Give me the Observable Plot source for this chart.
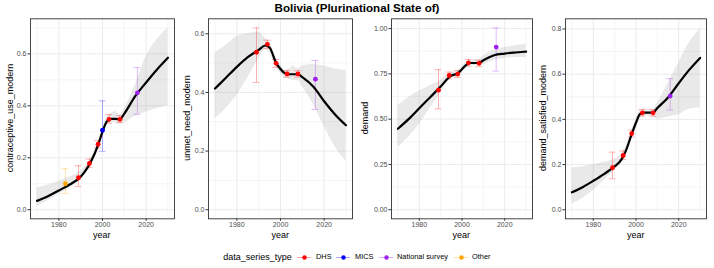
<!DOCTYPE html>
<html><head><meta charset="utf-8">
<script src="https://cdn.jsdelivr.net/npm/d3@7"></script>
<script src="https://cdn.jsdelivr.net/npm/@observablehq/plot@0.6"></script>
<style>
body{margin:0;background:#fff;}
#chart{position:relative;width:714px;height:268px;font-family:"Liberation Sans",Arial,Helvetica,sans-serif;overflow:hidden;background:#fff;}
.abs{position:absolute;white-space:nowrap;line-height:1;}
.abs svg, #chart svg{display:block;}
</style></head><body><div id="chart"></div>
<script>
// ---------- data ----------
const fitYears = [1970,1975,1980,1985,1990,1993,1995,1998,2000,2002,2004,2006,2008,2010,2015,2020,2025,2030];

const cpFit = [0.034,0.052,0.074,0.097,0.127,0.16,0.19,0.25,0.30,0.34,0.35,0.35,0.348,0.37,0.437,0.49,0.54,0.585];
const cpLo  = [0.012,0.035,0.06,0.085,0.115,0.15,0.18,0.235,0.285,0.325,0.335,0.335,0.33,0.335,0.36,0.375,0.39,0.40];
const cpHi  = [0.085,0.095,0.11,0.125,0.15,0.175,0.205,0.265,0.315,0.355,0.37,0.378,0.365,0.39,0.48,0.59,0.655,0.70];

const unFit = [0.413,0.45,0.487,0.52,0.545,0.56,0.553,0.50,0.48,0.465,0.462,0.462,0.462,0.452,0.42,0.37,0.325,0.288];
const unLo  = [0.31,0.345,0.39,0.45,0.515,0.545,0.535,0.485,0.465,0.45,0.445,0.44,0.44,0.42,0.36,0.285,0.215,0.165];
const unHi  = [0.535,0.56,0.59,0.60,0.605,0.585,0.57,0.515,0.495,0.475,0.48,0.49,0.48,0.49,0.495,0.49,0.48,0.475];

const dmFit = [0.447,0.50,0.56,0.62,0.68,0.72,0.74,0.752,0.775,0.80,0.81,0.81,0.81,0.825,0.853,0.862,0.868,0.873];
const dmLo  = [0.345,0.40,0.47,0.56,0.645,0.70,0.725,0.735,0.76,0.785,0.795,0.795,0.795,0.80,0.825,0.835,0.84,0.84];
const dmHi  = [0.575,0.62,0.655,0.685,0.715,0.745,0.755,0.77,0.79,0.815,0.825,0.83,0.83,0.85,0.88,0.895,0.905,0.915];

const dsFit = [0.077,0.10,0.128,0.158,0.192,0.22,0.255,0.335,0.385,0.425,0.43,0.43,0.43,0.45,0.497,0.56,0.62,0.672];
const dsLo  = [0.025,0.05,0.085,0.13,0.175,0.205,0.235,0.32,0.37,0.41,0.415,0.415,0.41,0.40,0.41,0.42,0.445,0.45];
const dsHi  = [0.185,0.19,0.20,0.21,0.225,0.245,0.275,0.35,0.40,0.44,0.445,0.445,0.44,0.47,0.56,0.65,0.74,0.80];

const cpObsYears = [1983,1989,1994,1998,2000,2003,2008,2016];
const cpObsTypes = ["Other","DHS","DHS","DHS","MICS","DHS","DHS","National survey"];
const cpObs   = [0.100,0.123,0.178,0.252,0.306,0.348,0.348,0.450];
const cpObsLo = [0.063,0.089,0.163,0.238,0.225,0.333,0.335,0.367];
const cpObsHi = [0.158,0.169,0.195,0.266,0.419,0.366,0.362,0.547];

const obsYears = [1989,1994,1998,2003,2008,2016];
const obsTypes = ["DHS","DHS","DHS","DHS","DHS","National survey"];
const unObs   = [0.537,0.564,0.499,0.463,0.463,0.445];
const unObsLo = [0.434,0.550,0.485,0.452,0.452,0.342];
const unObsHi = [0.620,0.578,0.512,0.474,0.474,0.509];
const dmObs   = [0.660,0.741,0.749,0.811,0.808,0.898];
const dmObsLo = [0.557,0.722,0.730,0.792,0.790,0.765];
const dmObsHi = [0.773,0.760,0.768,0.830,0.826,1.004];
const dsObs   = [0.186,0.240,0.337,0.429,0.429,0.503];
const dsObsLo = [0.137,0.222,0.322,0.414,0.414,0.441];
const dsObsHi = [0.255,0.260,0.352,0.444,0.444,0.580];

const seriesTypes  = ["DHS","MICS","National survey","Other"];
const seriesColors = ["#FF0000","#0000FF","#A020F0","#FFA500"];

const xTicks = [1980,2000,2020];
const xMinor = [1970,1990,2010,2030];
const yTicks2 = [0,0.2,0.4,0.6];
const yMinor2 = [0.1,0.3,0.5,0.7];
const yTicks3 = [0,0.25,0.5,0.75,1];
const yMinor3 = [0.125,0.375,0.625,0.875];
const yTicks4 = [0,0.2,0.4,0.6,0.8];
const yMinor4 = [0.1,0.3,0.5,0.7];

const titleText = "Bolivia (Plurinational State of)";
const yLabels = ["contraceptive_use_modern","unmet_need_modern","demand","demand_satisfied_modern"];
const xLabel = "year";
const legendTitle = "data_series_type";

// ---------- layout ----------
const chart = document.getElementById("chart");
const FT = 18.3, FB = 218.3;
const ML = 32, MR = 6, H = 234;
const capHalf = 1.6;

function addDiv(text, css) {
  const d = document.createElement("div");
  d.className = "abs";
  d.textContent = text;
  Object.assign(d.style, css);
  chart.appendChild(d);
  return d;
}

function panel(cfg) {
  const fitData = fitYears.map((year, i) => ({year, v: cfg.fit[i], lo: cfg.lo[i], hi: cfg.hi[i]}));
  const obs = cfg.oYears.map((year, i) => ({year, type: cfg.oTypes[i], v: cfg.oVal[i], lo: cfg.oLo[i], hi: cfg.oHi[i]}));
  const svg = Plot.plot({
    width: cfg.width + ML + MR, height: H,
    marginLeft: ML, marginRight: MR, marginTop: FT, marginBottom: H - FB,
    style: {fontFamily: '"Liberation Sans", Arial, sans-serif', fontSize: "7px", background: "transparent", overflow: "visible"},
    x: {domain: [1967, 2033]},
    y: {domain: cfg.yDomain},
    color: {domain: seriesTypes, range: seriesColors},
    marks: [
      Plot.gridX(xMinor, {stroke: "#EBEBEB", strokeOpacity: 1, strokeWidth: 0.5}),
      Plot.gridY(cfg.yMinor.filter(v => v < cfg.yDomain[1]), {stroke: "#EBEBEB", strokeOpacity: 1, strokeWidth: 0.5}),
      Plot.gridX(xTicks, {stroke: "#EBEBEB", strokeOpacity: 1, strokeWidth: 1}),
      Plot.gridY(cfg.yTicks, {stroke: "#EBEBEB", strokeOpacity: 1, strokeWidth: 1}),
      Plot.areaY(fitData, {x: "year", y1: "lo", y2: "hi", fill: "#999999", fillOpacity: 0.22, curve: "monotone-x"}),
      Plot.ruleX(obs, {x: "year", y1: "lo", y2: "hi", stroke: "type", strokeOpacity: 0.3, strokeWidth: 1}),
      Plot.ruleY(obs, {y: "lo", x1: d => d.year - capHalf, x2: d => d.year + capHalf, stroke: "type", strokeOpacity: 0.3, strokeWidth: 1}),
      Plot.ruleY(obs, {y: "hi", x1: d => d.year - capHalf, x2: d => d.year + capHalf, stroke: "type", strokeOpacity: 0.3, strokeWidth: 1}),
      Plot.line(fitData, {x: "year", y: "v", stroke: "black", strokeWidth: 2.2, curve: "monotone-x"}),
      Plot.dot(obs, {x: "year", y: "v", fill: "type", r: 2.4}),
      Plot.frame({stroke: "#333333", strokeWidth: 0.9}),
      Plot.axisX({ticks: xTicks, tickFormat: d => String(d), label: null, tickSize: 2.5, tickPadding: 1, fontSize: 7, fill: "#4D4D4D", stroke: "#333333"}),
      Plot.axisY({ticks: cfg.yTicks, tickFormat: cfg.fmt, label: null, tickSize: 2.5, tickPadding: 1.5, fontSize: 7, fill: "#4D4D4D", stroke: "#333333"})
    ]
  });
  svg.style.position = "absolute";
  svg.style.left = (cfg.left - ML) + "px";
  svg.style.top = "0px";
  chart.appendChild(svg);
  // axis titles
  addDiv(xLabel, {left: (cfg.left + cfg.width / 2) + "px", top: "235px", fontSize: "9px", color: "#000", transform: "translate(-50%,-50%)"});
  addDiv(cfg.ylab, {left: cfg.ylabX + "px", top: ((FT + FB) / 2) + "px", fontSize: "9px", color: "#000", transform: "translate(-50%,-50%) rotate(-90deg)"});
}

const f1 = d3.format(".1f"), f2 = d3.format(".2f");
panel({left: 29.7, width: 144, yDomain: [-0.035, 0.735], yTicks: yTicks2, yMinor: yMinor2, fmt: f1, fit: cpFit, lo: cpLo, hi: cpHi,
  oYears: cpObsYears, oTypes: cpObsTypes, oVal: cpObs, oLo: cpObsLo, oHi: cpObsHi, ylab: yLabels[0], ylabX: 10});
panel({left: 208.3, width: 144, yDomain: [-0.031, 0.651], yTicks: yTicks2, yMinor: yMinor2, fmt: f1, fit: unFit, lo: unLo, hi: unHi,
  oYears: obsYears, oTypes: obsTypes, oVal: unObs, oLo: unObsLo, oHi: unObsHi, ylab: yLabels[1], ylabX: 187});
panel({left: 390.7, width: 141, yDomain: [-0.05, 1.054], yTicks: yTicks3, yMinor: yMinor3, fmt: f2, fit: dmFit, lo: dmLo, hi: dmHi,
  oYears: obsYears, oTypes: obsTypes, oVal: dmObs, oLo: dmObsLo, oHi: dmObsHi, ylab: yLabels[2], ylabX: 365});
panel({left: 565.3, width: 141, yDomain: [-0.04, 0.845], yTicks: yTicks4, yMinor: yMinor4, fmt: f1, fit: dsFit, lo: dsLo, hi: dsHi,
  oYears: obsYears, oTypes: obsTypes, oVal: dsObs, oLo: dsObsLo, oHi: dsObsHi, ylab: yLabels[3], ylabX: 543});

// title
addDiv(titleText, {left: "357px", top: "8.3px", fontSize: "11.6px", fontWeight: "bold", color: "#000", transform: "translate(-50%,-50%)"});

// legend
const legY = 256.7;
addDiv(legendTitle, {left: "223.3px", top: legY + "px", fontSize: "9px", color: "#000", transform: "translateY(-50%)"});
const keyX = [304.3, 343.3, 385.7, 461];
const textX = [316, 355, 397, 472];
seriesTypes.forEach((t, i) => {
  const k = Plot.plot({
    width: 14, height: 10, margin: 0,
    x: {domain: [0, 1], axis: null}, y: {domain: [0, 1], axis: null},
    style: {background: "transparent", overflow: "visible"},
    marks: [
      Plot.ruleY([0.5], {x1: 0, x2: 1, stroke: seriesColors[i], strokeOpacity: 0.35, strokeWidth: 1}),
      Plot.dot([[0.5, 0.5]], {fill: seriesColors[i], r: 2.2})
    ]
  });
  k.style.position = "absolute";
  k.style.left = (keyX[i] - 7) + "px";
  k.style.top = (legY - 5) + "px";
  chart.appendChild(k);
  addDiv(t, {left: textX[i] + "px", top: legY + "px", fontSize: "7.4px", color: "#000", transform: "translateY(-50%)"});
});
</script></body></html>
